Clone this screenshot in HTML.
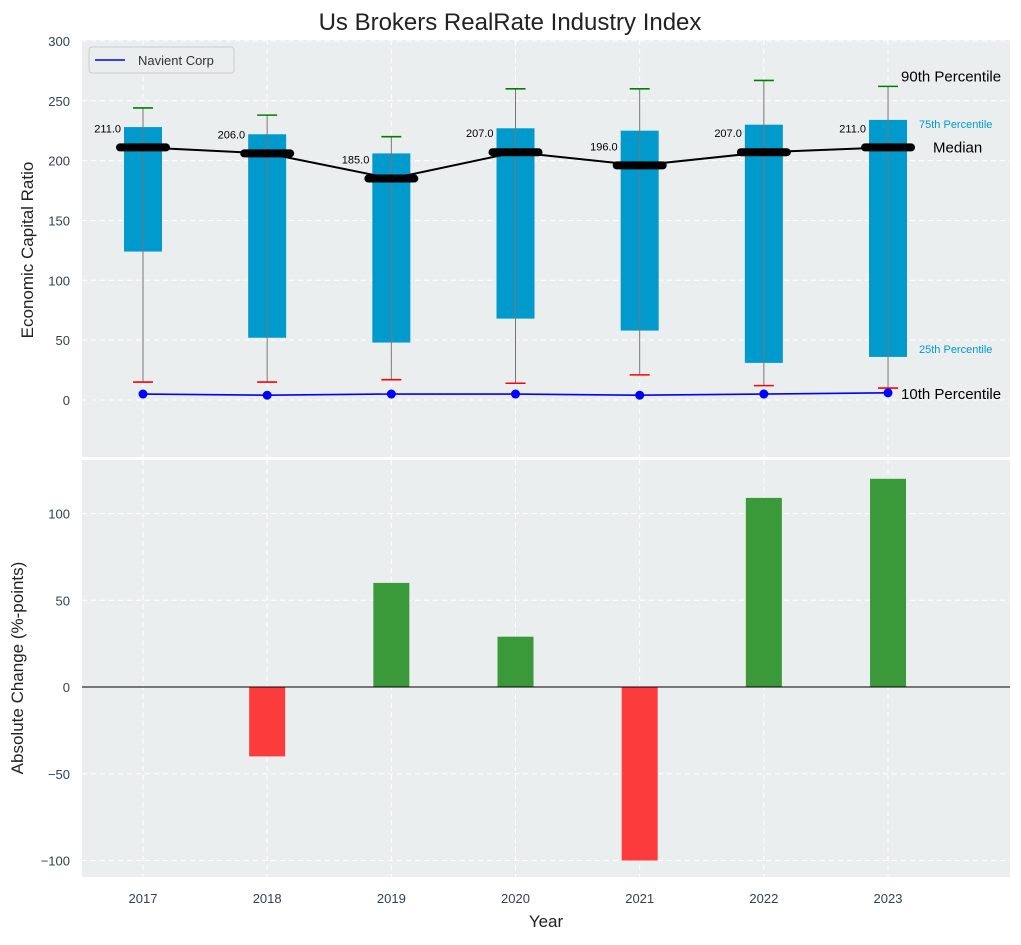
<!DOCTYPE html>
<html><head><meta charset="utf-8"><style>
body{margin:0;background:#fff;font-family:"Liberation Sans",sans-serif}
svg text{font-family:"Liberation Sans",sans-serif}
</style></head><body>
<svg id="c" width="1021" height="940" xmlns="http://www.w3.org/2000/svg"></svg>
<script>
const years=[2017,2018,2019,2020,2021,2022,2023];
const p25=[124,52,48,68,58,31,36];
const p75=[228,222,206,227,225,230,234];
const p90=[244,238,220,260,260,267,262];
const p10=[15,15,17,14,21,12,10];
const medians=[211,206,185,207,196,207,211];
const navient=[5,4,5,5,4,5,6];
const changes=[0,-40,60,29,-100,109,120];
const topTicks=[0,50,100,150,200,250,300];
const botTicks=[-100,-50,0,50,100];

const svg=document.getElementById('c');
const NS='http://www.w3.org/2000/svg';
function el(tag,attrs,parent,text){const e=document.createElementNS(NS,tag);for(const k in attrs)e.setAttribute(k,attrs[k]);if(text!==undefined)e.textContent=text;(parent||svg).appendChild(e);return e;}
const L=82,R=1010;
const x=v=>143+(v-2017)*124.17;
const yT=v=>400-v*1.197;
const yB=v=>687-v*1.735;
const T0=40,T1=457,B0=460,B1=877;
const tc='#34404f';

let e=el('rect',{x:L,y:T0,width:R-L,height:T1-T0,fill:'#ebeeef'});

e=el('rect',{x:L,y:B0,width:R-L,height:B1-B0,fill:'#ebeeef'});


years.forEach(yr=>{
 el('line',{x1:x(yr),x2:x(yr),y1:T0,y2:T1,stroke:'#fff','stroke-dasharray':'5,4'});
 el('line',{x1:x(yr),x2:x(yr),y1:B0,y2:B1,stroke:'#fff','stroke-dasharray':'5,4'});
 e=el('text',{x:x(yr),y:903,'font-size':13,fill:tc,'text-anchor':'middle'},svg,yr);
 
});
topTicks.forEach(t=>{
 el('line',{x1:L,x2:R,y1:yT(t),y2:yT(t),stroke:'#fff','stroke-dasharray':'5,4'});
 e=el('text',{x:70,y:yT(t)+5,'font-size':13,fill:tc,'text-anchor':'end'},svg,t);
 
});
botTicks.forEach(t=>{
 el('line',{x1:L,x2:R,y1:yB(t),y2:yB(t),stroke:'#fff','stroke-dasharray':'5,4'});
 e=el('text',{x:70,y:yB(t)+5,'font-size':13,fill:tc,'text-anchor':'end'},svg,t<0?'\u2212'+(-t):t);
 
});

years.forEach((yr,i)=>{
 const cx=x(yr);
 e=el('rect',{x:cx-19,y:yT(p75[i]),width:38,height:yT(p25[i])-yT(p75[i]),fill:'#009ACD'});
 
 e=el('line',{x1:cx,x2:cx,y1:yT(p90[i]),y2:yT(p10[i]),stroke:'#777','stroke-width':1});
 
 e=el('line',{x1:cx-10,x2:cx+10,y1:yT(p90[i]),y2:yT(p90[i]),stroke:'green','stroke-width':1.6});
 
 e=el('line',{x1:cx-10,x2:cx+10,y1:yT(p10[i]),y2:yT(p10[i]),stroke:'red','stroke-width':1.6});
 
});
e=el('polyline',{points:years.map((yr,i)=>x(yr)+','+yT(medians[i])).join(' '),fill:'none',stroke:'#000','stroke-width':2});

years.forEach((yr,i)=>{
 const cx=x(yr);
 e=el('line',{x1:cx-23,x2:cx+23,y1:yT(medians[i]),y2:yT(medians[i]),stroke:'#000','stroke-width':8,'stroke-linecap':'round'});
 
 e=el('text',{x:cx-22,y:yT(medians[i])-15,'font-size':11,fill:'#000','text-anchor':'end'},svg,medians[i].toFixed(1));
 
});
e=el('polyline',{points:years.map((yr,i)=>x(yr)+','+yT(navient[i])).join(' '),fill:'none',stroke:'blue','stroke-width':1.6});

years.forEach((yr,i)=>{
 e=el('circle',{cx:x(yr),cy:yT(navient[i]),r:4.5,fill:'blue'});
 
});
const lx=x(2023);
[[ '90th Percentile',lx+13,yT(p90[6])-5,15,'#000'],['75th Percentile',lx+31,yT(p75[6])+8,11,'#009ACD'],['Median',lx+45,yT(medians[6])+5,15,'#000'],['25th Percentile',lx+31,yT(p25[6])-4,11,'#009ACD'],['10th Percentile',lx+13,yT(navient[6])+6,15,'#000']].forEach(a=>{
 e=el('text',{x:a[1],y:a[2],'font-size':a[3],fill:a[4]},svg,a[0]);
 
});
const lg=el('g',{});

el('rect',{x:89,y:47,width:145,height:26,fill:'#ebeeef',stroke:'#ccc',rx:3},lg);
el('line',{x1:95,x2:125,y1:60,y2:60,stroke:'blue','stroke-width':1.6},lg);
el('text',{x:138,y:65,'font-size':13,fill:'#333'},lg,'Navient Corp');

years.forEach((yr,i)=>{
 const v=changes[i];if(v===0)return;
 e=el('rect',{x:x(yr)-18,y:Math.min(yB(v),yB(0)),width:36,height:Math.abs(yB(v)-yB(0)),fill:v>0?'#3a9a3a':'#fc3c3c'});
 
});
e=el('line',{x1:L,x2:R,y1:yB(0),y2:yB(0),stroke:'#000','stroke-width':1});


e=el('text',{x:510,y:30,'font-size':24,fill:'#222','text-anchor':'middle'},svg,'Us Brokers RealRate Industry Index');

e=el('text',{x:546,y:927,'font-size':17,fill:'#222','text-anchor':'middle'},svg,'Year');

e=el('text',{x:0,y:0,'font-size':17,fill:'#222','text-anchor':'middle',transform:'translate(33,250) rotate(-90)'},svg,'Economic Capital Ratio');

e=el('text',{x:0,y:0,'font-size':17,fill:'#222','text-anchor':'middle',transform:'translate(23,668) rotate(-90)'},svg,'Absolute Change (%-points)');

</script>
</body></html>
